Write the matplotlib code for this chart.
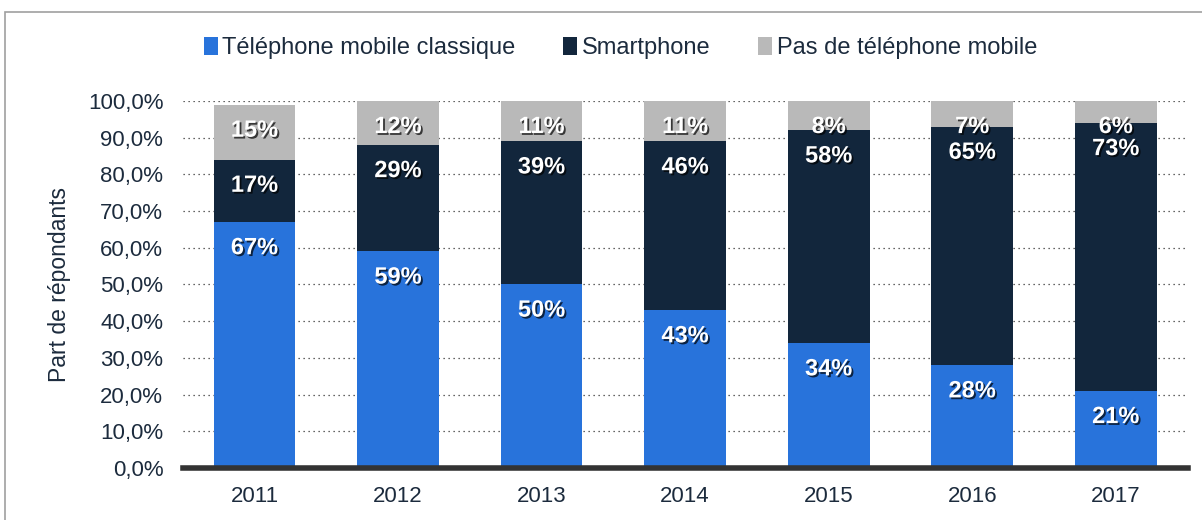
import matplotlib
matplotlib.use('Agg')
import matplotlib.pyplot as plt
import matplotlib.patches as mpatches
import matplotlib.patheffects as pe
import numpy as np

plt.rcParams['font.family'] = ['Liberation Sans', 'DejaVu Sans']

years = ['2011', '2012', '2013', '2014', '2015', '2016', '2017']
classique = [67, 59, 50, 43, 34, 28, 21]
smartphone = [17, 29, 39, 46, 58, 65, 73]
aucun = [15, 12, 11, 11, 8, 7, 6]

series_names = ['Téléphone mobile classique', 'Smartphone', 'Pas de téléphone mobile']
COLORS = ['#2873db', '#12263c', '#b9b9b9']
TEXT = '#1c2b3d'

fig = plt.figure(figsize=(12.02, 5.2), dpi=100)
ax = fig.add_axes([0.152, 0.1, 0.836, 0.706])

# outer frame, partly cut off by the picture edge
frame = mpatches.Rectangle((5 / 1202, -0.1), 1.2, 0.977 + 0.1, transform=fig.transFigure,
                           fill=False, edgecolor='#a0a0a0', lw=1.2)
fig.patches.append(frame)

x = np.arange(len(years))
bottom = np.zeros(len(years))
shadow = [pe.withSimplePatchShadow(offset=(1.3, -1.3), shadow_rgbFace='#000000', alpha=0.7)]
for vals, color, name in zip([classique, smartphone, aucun], COLORS, series_names):
    vals = np.array(vals, dtype=float)
    ax.bar(x, vals, width=0.57, bottom=bottom, color=color, label=name, zorder=2)
    for xi, b, v in zip(x, bottom, vals):
        ax.text(xi, b + v - 7, f'{int(v)}%', ha='center', va='center', color='white',
                fontsize=17, fontweight='bold', path_effects=shadow, zorder=3)
    bottom += vals

ax.set_xlim(-0.5, 6.5)
ax.set_ylim(0, 100)
ax.set_yticks(np.arange(0, 101, 10))
ax.set_yticklabels([f'{v:.1f}%'.replace('.', ',') for v in np.arange(0, 101, 10)])
ax.set_xticks(x)
ax.set_xticklabels(years)
ax.tick_params(axis='y', length=0, pad=14, labelsize=16, labelcolor=TEXT)
ax.tick_params(axis='x', length=0, pad=13, labelsize=16, labelcolor=TEXT)
ax.yaxis.grid(True, linestyle=(0, (1, 3)), color='#333333', lw=0.9, zorder=0)
ax.set_axisbelow(True)
for s in ['left', 'right', 'top']:
    ax.spines[s].set_visible(False)
ax.spines['bottom'].set_color('#333333')
ax.spines['bottom'].set_linewidth(4)
ax.spines['bottom'].set_zorder(4)
ax.set_ylabel('Part de répondants', fontsize=16.5, color=TEXT, labelpad=12)

fig.legend(loc='center', bbox_to_anchor=(0.516, 0.908), ncol=3, frameon=False,
           handlelength=0.6, handleheight=0.8, handletextpad=0.2, columnspacing=2.0,
           fontsize=17, labelcolor=TEXT)

fig.savefig('out.png', dpi=100)
